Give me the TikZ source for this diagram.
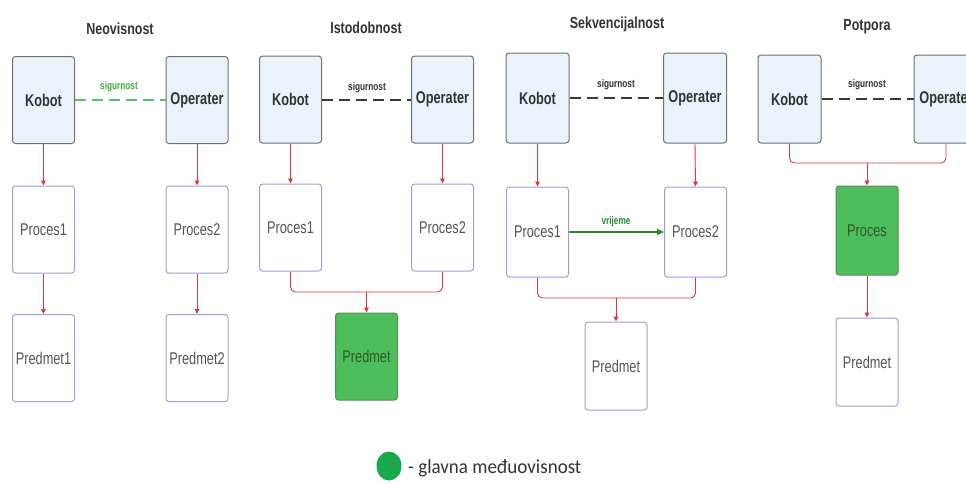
\documentclass[tikz,border=0pt]{standalone}
\usepackage{fontspec}
\setmainfont{Liberation Sans}
\newfontfamily\cond[FakeStretch=0.75]{Liberation Sans}
\newfontfamily\tcond[FakeStretch=0.78]{Liberation Sans}
\newfontfamily\legfont[FakeStretch=0.95]{Carlito}
\usetikzlibrary{arrows.meta,shapes.geometric}
\definecolor{bluefill}{HTML}{EBF2FC}
\definecolor{blueborder}{HTML}{707070}
\definecolor{procborder}{HTML}{A29CE2}
\definecolor{gfill}{HTML}{4DBE5B}
\definecolor{gborder}{HTML}{5A8A5E}
\definecolor{gtext}{HTML}{2E5A30}
\definecolor{redc}{HTML}{D9363E}
\definecolor{dashblack}{HTML}{3A3A3A}
\definecolor{dashgreen}{HTML}{5CC45C}
\definecolor{sigg}{HTML}{3BAF3B}
\definecolor{timeg}{HTML}{2A8A2A}
\definecolor{legg}{HTML}{19A84B}
\definecolor{txt}{HTML}{333333}
\definecolor{ptxt}{HTML}{555555}
\tikzset{
  agent/.style={draw=blueborder, fill=bluefill, line width=1pt, rounded corners=3pt,
    minimum width=62pt, minimum height=87pt, inner sep=0pt,
    font=\cond\fontsize{17}{20}\selectfont\bfseries, text=txt},
  procbox/.style={draw=procborder, fill=white, line width=1pt, rounded corners=3pt,
    minimum width=62pt, minimum height=87pt, inner sep=0pt,
    font=\cond\fontsize{17}{20}\selectfont, text=ptxt},
  mainbox/.style={draw=gborder, fill=gfill, line width=1pt, rounded corners=3pt,
    minimum width=62pt, minimum height=87pt, inner sep=0pt,
    font=\cond\fontsize{17}{20}\selectfont, text=gtext},
  paneltitle/.style={font=\tcond\fontsize{16}{19}\selectfont\bfseries, text=txt},
  smalllabel/.style={font=\cond\fontsize{11}{13}\selectfont\bfseries, text=txt},
  redarrow/.style={draw=redc, line width=0.9pt, -{Triangle[length=5pt,width=4.5pt]}},
  redline/.style={draw=redc, line width=0.9pt, rounded corners=5pt},
  safety/.style={draw=dashblack, line width=2pt, dash pattern=on 11pt off 6pt},
  safetygreen/.style={draw=dashgreen, line width=2pt, dash pattern=on 11pt off 6pt},
  timearrow/.style={draw=timeg, line width=1.6pt, -{Triangle[length=7pt,width=6pt]}},
}
\begin{document}
\begin{tikzpicture}[x=1pt,y=-1pt]
\clip (0,0) rectangle (966,483);
\fill[white] (0,0) rectangle (966,483);

% ---------- Panel 1: Neovisnost ----------
\node[paneltitle] (T1) at (120,29) {Neovisnost};
\node[agent] (K1) at (43.5,100) {Kobot};
\node[agent] (O1) at (197,100) {Operater};
\node[procbox] (P11) at (43.5,229.5) {Proces1};
\node[procbox] (P12) at (197,229.5) {Proces2};
\node[procbox] (M11) at (43.5,358) {Predmet1};
\node[procbox] (M12) at (197,358) {Predmet2};
\draw[safetygreen] (K1.east) -- (O1.west);
\node[smalllabel, text=sigg] (S1) at (119,87) {sigurnost};
\draw[redarrow] (K1.south) -- (P11.north);
\draw[redarrow] (O1.south) -- (P12.north);
\draw[redarrow] (P11.south) -- (M11.north);
\draw[redarrow] (P12.south) -- (M12.north);

% ---------- Panel 2: Istodobnost ----------
\node[paneltitle] (T2) at (366,28) {Istodobnost};
\node[agent] (K2) at (290.5,99.5) {Kobot};
\node[agent] (O2) at (442.5,99.5) {Operater};
\node[procbox] (P21) at (290.5,227.5) {Proces1};
\node[procbox] (P22) at (442.5,227.5) {Proces2};
\node[mainbox] (M2) at (366.5,356.5) {Predmet};
\draw[safety] (K2.east) -- (O2.west);
\node[smalllabel] (S2) at (367,88) {sigurnost};
\draw[redarrow] (K2.south) -- (P21.north);
\draw[redarrow] (O2.south) -- (P22.north);
\coordinate (J2) at (366.5,292);
\draw[redline] (P21.south) |- (J2);
\draw[redline] (P22.south) |- (J2);
\draw[redarrow] (J2) -- (M2.north);

% ---------- Panel 3: Sekvencijalnost ----------
\node[paneltitle] (T3) at (617,24) {Sekvencijalnost};
\node[agent, minimum width=63pt, minimum height=90pt] (K3) at (537.5,98) {Kobot};
\node[agent, minimum width=63pt, minimum height=90pt] (O3) at (695,98) {Operater};
\node[procbox, minimum height=90pt] (P31) at (537.5,232) {Proces1};
\node[procbox, minimum height=90pt] (P32) at (695.5,232) {Proces2};
\node[procbox, minimum height=88pt] (M3) at (616,366) {Predmet};
\draw[safety] (K3.east) -- (O3.west);
\node[smalllabel] (S3) at (616,85) {sigurnost};
\draw[redarrow] (K3.south) -- (P31.north);
\draw[redarrow] (O3.south) -- (P32.north);
\draw[timearrow] (P31.east) -- (P32.west);
\node[smalllabel, text=timeg] (V3) at (616,222) {vrijeme};
\coordinate (J3) at (616,298);
\draw[redline] (P31.south) |- (J3);
\draw[redline] (P32.south) |- (J3);
\draw[redarrow] (J3) -- (M3.north);

% ---------- Panel 4: Potpora ----------
\node[paneltitle] (T4) at (867,27) {Potpora};
\node[agent, minimum width=63pt, minimum height=88pt] (K4) at (789.5,99) {Kobot};
\node[agent, minimum width=64pt, minimum height=88pt] (O4) at (946,99) {Operater};
\node[mainbox, minimum height=89pt] (P4) at (867,230.5) {Proces};
\node[procbox, minimum height=88pt] (M4) at (867,362) {Predmet};
\draw[safety] (K4.east) -- (O4.west);
\node[smalllabel] (S4) at (867,85) {sigurnost};
\coordinate (J4) at (867,163);
\draw[redline] (K4.south) |- (J4);
\draw[redline] (O4.south) |- (J4);
\draw[redarrow] (J4) -- (P4.north);
\draw[redarrow] (P4.south) -- (M4.north);

% ---------- Legend ----------
\node[ellipse, fill=legg, minimum width=25pt, minimum height=29pt, inner sep=0pt] (LG) at (389,466) {};
\node[anchor=west, font=\legfont\fontsize{20}{24}\selectfont, text=txt, inner sep=0pt] (LT) at (408,468) {- glavna međuovisnost};
\end{tikzpicture}
\end{document}
